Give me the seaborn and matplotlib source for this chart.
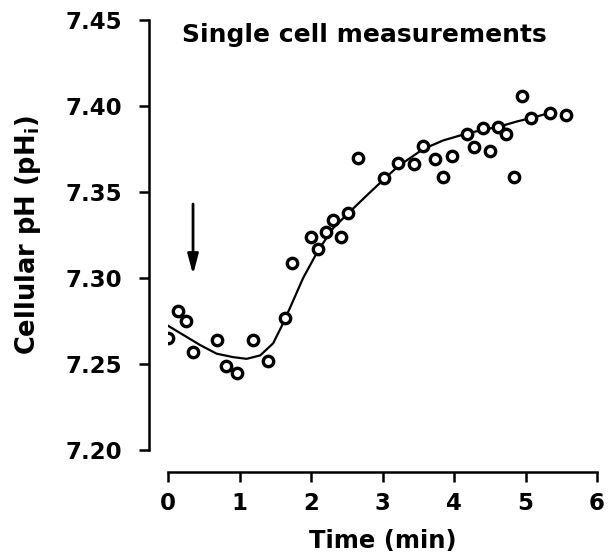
import matplotlib
matplotlib.use("Agg")
import matplotlib.pyplot as plt
import seaborn as sns
import pandas as pd

sns.set_style("white")
plt.rcParams['font.family'] = ['DejaVu Sans']
plt.rcParams['mathtext.fontset'] = 'dejavusans'
plt.rcParams['text.color'] = 'black'
plt.rcParams['axes.labelcolor'] = 'black'
plt.rcParams['xtick.color'] = 'black'
plt.rcParams['ytick.color'] = 'black'

# Measured single-cell data
time_min = [0.0, 0.14, 0.25, 0.35, 0.69, 0.81, 0.97, 1.19, 1.40, 1.64,
            1.73, 2.00, 2.10, 2.21, 2.31, 2.42, 2.52, 2.66, 3.02, 3.22,
            3.44, 3.57, 3.73, 3.85, 3.97, 4.18, 4.28, 4.41, 4.50, 4.62,
            4.73, 4.84, 4.95, 5.08, 5.34, 5.57]
ph_values = [7.265, 7.281, 7.275, 7.257, 7.264, 7.249, 7.245, 7.264, 7.252, 7.277,
             7.309, 7.324, 7.317, 7.327, 7.334, 7.324, 7.338, 7.370, 7.358, 7.367,
             7.366, 7.377, 7.369, 7.359, 7.371, 7.384, 7.376, 7.387, 7.374, 7.388,
             7.384, 7.359, 7.406, 7.393, 7.396, 7.395]

# Fitted curve
fit_time = [-0.03, 0.21, 0.45, 0.68, 0.91, 1.10, 1.29, 1.47, 1.59, 1.71,
            1.89, 2.10, 2.31, 2.53, 2.78, 3.01, 3.22, 3.57, 3.85, 4.18,
            4.39, 4.63, 4.88, 5.08, 5.34, 5.37]
fit_ph = [7.273, 7.267, 7.261, 7.256, 7.254, 7.253, 7.255, 7.262, 7.272, 7.283,
          7.300, 7.316, 7.329, 7.338, 7.348, 7.357, 7.365, 7.375, 7.380, 7.384,
          7.386, 7.388, 7.391, 7.393, 7.396, 7.398]

x_ticks = [0, 1, 2, 3, 4, 5, 6]
y_ticks = [7.20, 7.25, 7.30, 7.35, 7.40, 7.45]
y_tick_labels = ["7.20", "7.25", "7.30", "7.35", "7.40", "7.45"]

title_text = "Single cell measurements"
x_label = "Time (min)"
y_label = r"Cellular pH (pH$_{\mathbf{i}}$)"

df_pts = pd.DataFrame({"t": time_min, "ph": ph_values})
df_fit = pd.DataFrame({"t": fit_time, "ph": fit_ph})

W, H = 615, 560
fig = plt.figure(figsize=(W / 100, H / 100), dpi=100)
ax = fig.add_axes([168 / W, 1 - 450 / H, (597 - 168) / W, (450 - 20) / H])

sns.lineplot(data=df_fit, x="t", y="ph", ax=ax, color="black", linewidth=1.6,
             sort=False, estimator=None)
sns.scatterplot(data=df_pts, x="t", y="ph", ax=ax, marker="o", s=56,
                facecolor="white", edgecolor="black", linewidth=2.4, zorder=3)

ax.annotate("", xy=(0.35, 7.302), xytext=(0.35, 7.343),
            arrowprops=dict(arrowstyle="-|>,head_length=1.2,head_width=0.32",
                            color="black", lw=2.0, shrinkA=0, shrinkB=0))

ax.set_xlim(0, 6)
ax.set_ylim(7.20, 7.45)
ax.set_xticks(x_ticks)
ax.set_yticks(y_ticks)
ax.set_yticklabels(y_tick_labels)

for s in ["top", "right"]:
    ax.spines[s].set_visible(False)
ax.spines["left"].set_position(("outward", 14))
ax.spines["bottom"].set_position(("outward", 16))
for s in ["left", "bottom"]:
    ax.spines[s].set_linewidth(1.8)
    ax.spines[s].set_color("black")

ax.tick_params(axis="both", which="major", direction="out", length=7,
               width=1.8, colors="black", labelsize=16.5,
               bottom=True, left=True, top=False, right=False)
ax.tick_params(axis="y", pad=12)
ax.tick_params(axis="x", pad=7)
for lab in ax.get_xticklabels() + ax.get_yticklabels():
    lab.set_fontweight("bold")
    lab.set_color("black")

ax.set_xlabel(x_label, fontsize=17.5, fontweight="bold", labelpad=10, color="black")
ax.set_ylabel(y_label, fontsize=18.5, fontweight="bold", labelpad=16, color="black")

fig.text(364 / W, 1 - 35 / H, title_text, ha="center", va="center",
         fontsize=18, fontweight="bold", color="black")
ax.grid(False)

fig.savefig("out.png", dpi=100, facecolor="white")
